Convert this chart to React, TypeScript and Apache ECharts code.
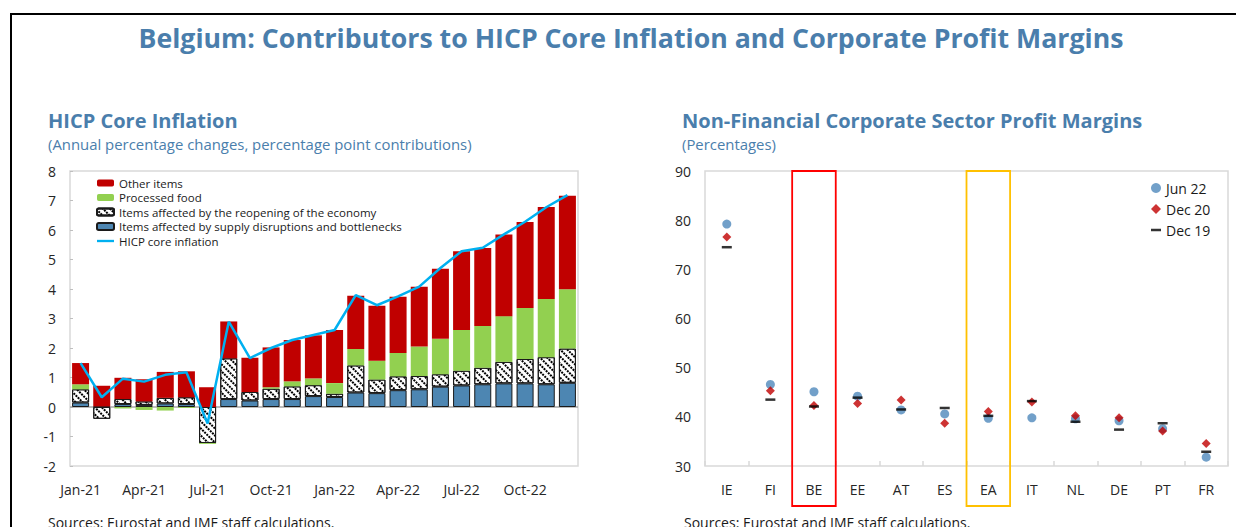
import React, { useEffect, useRef } from "react";
import * as echarts from "echarts";

const months = [
  "Jan-21", "Feb-21", "Mar-21", "Apr-21", "May-21", "Jun-21", "Jul-21", "Aug-21", "Sep-21", "Oct-21", "Nov-21", "Dec-21",
  "Jan-22", "Feb-22", "Mar-22", "Apr-22", "May-22", "Jun-22", "Jul-22", "Aug-22", "Sep-22", "Oct-22", "Nov-22", "Dec-22",
];
const supplyDisruptions = [0.15, 0.02, 0.1, 0.07, 0.12, 0.1, 0.0, 0.27, 0.22, 0.27, 0.27, 0.37, 0.34, 0.49, 0.47, 0.57, 0.6, 0.69, 0.73, 0.77, 0.8, 0.8, 0.77, 0.82];
const reopening = [0.45, -0.4, 0.17, 0.12, 0.19, 0.23, -1.22, 1.38, 0.29, 0.35, 0.43, 0.37, 0.11, 0.92, 0.46, 0.47, 0.45, 0.42, 0.5, 0.56, 0.73, 0.83, 0.92, 1.16];
const processedFood = [0.17, 0.0, -0.05, -0.1, -0.12, -0.03, -0.03, 0.0, 0.0, 0.05, 0.17, 0.23, 0.36, 0.56, 0.64, 0.79, 1.0, 1.2, 1.38, 1.42, 1.55, 1.73, 1.97, 2.01];
const otherItems = [0.72, 0.7, 0.72, 0.75, 0.88, 0.88, 0.67, 1.25, 1.16, 1.35, 1.4, 1.46, 1.8, 1.8, 1.86, 1.91, 2.03, 2.38, 2.67, 2.64, 2.77, 2.91, 3.12, 3.17];
const coreInflation = [1.49, 0.33, 0.96, 0.86, 1.09, 1.18, -0.56, 2.89, 1.66, 2.0, 2.27, 2.44, 2.61, 3.79, 3.45, 3.75, 4.08, 4.71, 5.28, 5.4, 5.85, 6.28, 6.77, 7.18];

const countries = ["IE", "FI", "BE", "EE", "AT", "ES", "EA", "IT", "NL", "DE", "PT", "FR"];
const jun22 = [79.2, 46.6, 45.1, 44.2, 41.4, 40.6, 39.7, 39.8, 39.6, 39.2, 37.6, 31.8];
const dec20 = [76.6, 45.3, 42.3, 42.7, 43.4, 38.7, 41.1, 43.0, 40.2, 39.8, 37.1, 34.6];
const dec19 = [74.5, 43.5, 42.1, 43.9, 41.5, 41.8, 40.2, 43.2, 39.0, 37.4, 38.7, 32.9];

const leftNames = [
  "Other items",
  "Processed food",
  "Items affected by the reopening of the economy",
  "Items affected by supply disruptions and bottlenecks",
  "HICP core inflation",
];
const rightNames = ["Jun 22", "Dec 20", "Dec 19"];

const FONT = "'Open Sans', 'Noto Sans', sans-serif";
const TITLE_BLUE = "#4a7eac";
const AXIS_TEXT = "#262626";
const BORDER = "#d9d9d9";

export default function App() {
  const ref = useRef<HTMLDivElement>(null);

  useEffect(() => {
    if (!ref.current) return;
    const chart = echarts.init(ref.current, null, { renderer: "svg" });

    const hatch = {
      symbol: "rect",
      symbolSize: 1,
      color: "#000",
      backgroundColor: "#fff",
      dashArrayX: [2, 1],
      dashArrayY: [1.2, 2.6],
      rotation: Math.PI / 4,
    };

    const option: any = {
      animation: false,
      textStyle: { fontFamily: FONT },
      graphic: [
        { id: "frame", type: "rect", shape: { x: 11, y: 14, width: 1400, height: 700 }, style: { fill: "none", stroke: "#000", lineWidth: 2 }, silent: true },
        { id: "t0", type: "text", x: 631, y: 37, style: { text: "Belgium: Contributors to HICP Core Inflation and Corporate Profit Margins", fontSize: 26.7, fontWeight: "bold", fontFamily: FONT, fill: TITLE_BLUE, align: "center", verticalAlign: "middle" } },
        { id: "t1", type: "text", x: 48, y: 120, style: { text: "HICP Core Inflation", fontSize: 20, fontWeight: "bold", fontFamily: FONT, fill: TITLE_BLUE, align: "left", verticalAlign: "middle" } },
        { id: "t2", type: "text", x: 48, y: 144, style: { text: "(Annual percentage changes, percentage point contributions)", fontSize: 14.9, fontFamily: FONT, fill: TITLE_BLUE, align: "left", verticalAlign: "middle" } },
        { id: "t3", type: "text", x: 682, y: 120, style: { text: "Non-Financial Corporate Sector Profit Margins", fontSize: 20, fontWeight: "bold", fontFamily: FONT, fill: TITLE_BLUE, align: "left", verticalAlign: "middle" } },
        { id: "t4", type: "text", x: 682, y: 144, style: { text: "(Percentages)", fontSize: 14.9, fontFamily: FONT, fill: TITLE_BLUE, align: "left", verticalAlign: "middle" } },
        { id: "s1", type: "text", x: 48, y: 522, style: { text: "Sources: Eurostat and IMF staff calculations.", fontSize: 14, fontFamily: FONT, fill: "#1a1a1a", align: "left", verticalAlign: "middle" } },
        { id: "s2", type: "text", x: 684, y: 522, style: { text: "Sources: Eurostat and IMF staff calculations.", fontSize: 14, fontFamily: FONT, fill: "#1a1a1a", align: "left", verticalAlign: "middle" } },
      ],
      legend: [
        {
          data: [
            { name: leftNames[0] },
            { name: leftNames[1] },
            { name: leftNames[2] },
            { name: leftNames[3] },
            { name: leftNames[4], icon: "path://M0,0H19V2.6H0Z" },
          ],
          orient: "vertical",
          left: 91,
          top: 172,
          itemWidth: 17,
          itemHeight: 7,
          itemGap: 2.5,
          textStyle: { fontSize: 11.5, color: "#1a1a1a", fontFamily: FONT },
          selectedMode: false,
        },
        {
          data: [
            { name: "Jun 22", icon: "circle" },
            { name: "Dec 20", icon: "diamond" },
            { name: "Dec 19", icon: "path://M0,0H10V2.5H0Z" },
          ],
          orient: "vertical",
          left: 1146,
          top: 176,
          itemWidth: 10,
          itemHeight: 10,
          itemGap: 7,
          textStyle: { fontSize: 14, color: "#1a1a1a", fontFamily: FONT },
          selectedMode: false,
        },
      ],
      grid: [
        { left: 70, top: 171, width: 508, height: 295, show: true, borderColor: BORDER, borderWidth: 1.5, backgroundColor: "transparent" },
        { left: 705, top: 171, width: 523, height: 295, show: true, borderColor: BORDER, borderWidth: 1.5, backgroundColor: "transparent" },
      ],
      xAxis: [
        {
          type: "category",
          gridIndex: 0,
          data: months,
          axisLine: { show: false, onZero: false },
          axisTick: { show: false },
          axisLabel: { interval: 2, margin: 16, fontSize: 14, color: AXIS_TEXT, fontFamily: FONT },
        },
        {
          type: "category",
          gridIndex: 1,
          data: countries,
          axisLine: { show: false, onZero: false },
          axisTick: { show: true, inside: true, length: 5, lineStyle: { color: BORDER, width: 1.5 } },
          axisLabel: { margin: 16, fontSize: 14, color: AXIS_TEXT, fontFamily: FONT },
        },
      ],
      yAxis: [
        {
          type: "value",
          gridIndex: 0,
          min: -2,
          max: 8,
          interval: 1,
          axisLine: { show: false },
          axisTick: { show: true, inside: true, length: 3, lineStyle: { color: "#bfbfbf" } },
          splitLine: { show: false },
          axisLabel: { margin: 14, fontSize: 14, color: AXIS_TEXT, fontFamily: FONT },
        },
        {
          type: "value",
          gridIndex: 1,
          min: 30,
          max: 90,
          interval: 10,
          axisLine: { show: false },
          axisTick: { show: false },
          splitLine: { show: false },
          axisLabel: { margin: 14, fontSize: 14, color: AXIS_TEXT, fontFamily: FONT },
        },
      ],
      series: [
        {
          name: leftNames[3],
          type: "bar",
          stack: "core",
          xAxisIndex: 0,
          yAxisIndex: 0,
          barWidth: 17,
          data: supplyDisruptions,
          itemStyle: { color: "#4d86b2", borderColor: "#1a1a1a", borderWidth: 1 },
        },
        {
          name: leftNames[2],
          type: "bar",
          stack: "core",
          xAxisIndex: 0,
          yAxisIndex: 0,
          barWidth: 17,
          data: reopening,
          itemStyle: { color: "#ffffff", borderColor: "#1a1a1a", borderWidth: 1, decal: hatch },
        },
        {
          name: leftNames[1],
          type: "bar",
          stack: "core",
          xAxisIndex: 0,
          yAxisIndex: 0,
          barWidth: 17,
          data: processedFood,
          itemStyle: { color: "#92d050" },
        },
        {
          name: leftNames[0],
          type: "bar",
          stack: "core",
          xAxisIndex: 0,
          yAxisIndex: 0,
          barWidth: 17,
          data: otherItems,
          itemStyle: { color: "#c00000" },
        },
        {
          name: leftNames[4],
          type: "line",
          xAxisIndex: 0,
          yAxisIndex: 0,
          data: coreInflation,
          symbol: "none",
          z: 5,
          lineStyle: { color: "#00b0f0", width: 2.5 },
          itemStyle: { color: "#00b0f0" },
          markLine: {
            silent: true,
            symbol: "none",
            label: { show: false },
            lineStyle: { color: "#a6a6a6", width: 1.5, type: "solid" },
            data: [{ yAxis: 0 }],
            z: 1,
          },
        },
        {
          name: rightNames[0],
          type: "scatter",
          xAxisIndex: 1,
          yAxisIndex: 1,
          symbol: "circle",
          symbolSize: 9,
          data: jun22,
          itemStyle: { color: "#4f88bb" },
        },
        {
          name: rightNames[1],
          type: "scatter",
          xAxisIndex: 1,
          yAxisIndex: 1,
          symbol: "diamond",
          symbolSize: 9,
          data: dec20,
          itemStyle: { color: "#c00000" },
        },
        {
          name: rightNames[2],
          type: "scatter",
          xAxisIndex: 1,
          yAxisIndex: 1,
          symbol: "rect",
          symbolSize: [10, 2.5],
          data: dec19,
          itemStyle: { color: "#000000" },
        },
      ],
    };

    chart.setOption(option);

    const c0 = chart.convertToPixel({ xAxisIndex: 1 }, countries[0]) as number;
    const c1 = chart.convertToPixel({ xAxisIndex: 1 }, countries[1]) as number;
    const w = c1 - c0;
    const top = chart.convertToPixel({ yAxisIndex: 1 }, 90) as number;
    const bottom = (chart.convertToPixel({ yAxisIndex: 1 }, 30) as number) + 40;
    const box = (id: string, name: string, color: string) => {
      const cx = chart.convertToPixel({ xAxisIndex: 1 }, name) as number;
      return {
        id,
        type: "rect",
        silent: true,
        z: 10,
        shape: { x: cx - w / 2, y: top, width: w, height: bottom - top },
        style: { fill: "none", stroke: color, lineWidth: 1.8 },
      };
    };
    chart.setOption({ graphic: [box("boxBE", "BE", "#ff0000"), box("boxEA", "EA", "#ffc000")] });

    return () => chart.dispose();
  }, []);

  return <div ref={ref} style={{ position: "absolute", left: 0, top: 0, width: 1236, height: 527 }} />;
}
